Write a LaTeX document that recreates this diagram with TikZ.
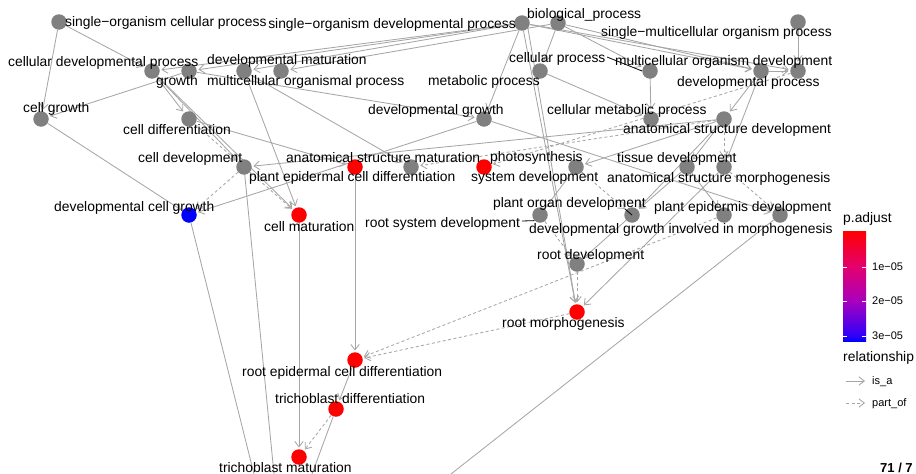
\documentclass[tikz,border=0pt]{standalone}
\usepackage{fontspec}
\setmainfont{Liberation Sans}
\usetikzlibrary{arrows.meta,backgrounds}
\definecolor{edgegrey}{HTML}{A6A6A6}
\definecolor{nodegrey}{HTML}{808080}
\pgfdeclareverticalshading{pbar}{100bp}{rgb(0bp)=(0,0,1); rgb(25bp)=(0,0,1); rgb(27.3bp)=(0.18,0,0.98); rgb(43.2bp)=(0.66,0,0.74); rgb(58.6bp)=(0.89,0,0.44); rgb(75bp)=(1,0,0); rgb(100bp)=(1,0,0)}
\begin{document}
\begin{tikzpicture}[x=1pt,y=-1pt,
  gonode/.style={circle, fill=nodegrey, draw=none, minimum size=15.5pt, inner sep=0pt},
  sig/.style={gonode, fill=red},
  isa/.style={draw=edgegrey, line width=0.85pt, -{Straight Barb[length=5.5pt,width=8.5pt]}, shorten >=1.5pt},
  partof/.style={isa, dash pattern=on 3pt off 2.5pt},
  plain/.style={draw=edgegrey, line width=0.85pt},
  lbl/.style={anchor=west, inner sep=0pt, text height=10pt, text depth=1pt, font=\fontsize{13.85}{14}\selectfont},
  lsm/.style={anchor=west, inner sep=0pt, text height=8pt, text depth=1pt, font=\fontsize{11}{12}\selectfont},
  seg/.style={draw=black, line width=0.8pt}]
\useasboundingbox (0,0) rectangle (916,474);
% nodes
\node[gonode] (A) at (59,22) {};
\node[gonode] (B) at (522,23) {};
\node[gonode] (C) at (558,23) {};
\node[gonode] (D) at (798,22) {};
\node[gonode] (E) at (152,71) {};
\node[gonode] (F) at (189,71) {};
\node[gonode] (G) at (244,71) {};
\node[gonode] (H) at (281,71) {};
\node[gonode] (I) at (540,71) {};
\node[gonode] (J) at (650,71) {};
\node[gonode] (K) at (761,71) {};
\node[gonode] (L) at (798,71) {};
\node[gonode] (M) at (41,119) {};
\node[gonode] (N) at (189,119) {};
\node[gonode] (O) at (484,119) {};
\node[gonode] (P) at (651,119) {};
\node[gonode] (Q) at (724,119) {};
\node[gonode] (R) at (244,167) {};
\node[sig] (S) at (355,167) {};
\node[gonode] (T) at (411,167) {};
\node[sig] (U) at (484,167) {};
\node[gonode] (V) at (576,167) {};
\node[gonode] (W) at (687,167) {};
\node[gonode] (X) at (724,167) {};
\node[gonode, fill=blue] (Y) at (189,215) {};
\node[sig] (Z) at (299,215) {};
\node[gonode] (AA) at (540,215) {};
\node[gonode] (AB) at (632,215) {};
\node[gonode] (AC) at (724,215) {};
\node[gonode] (AD) at (780,215) {};
\node[gonode] (AE) at (577,264) {};
\node[sig] (AF) at (577,312) {};
\node[sig] (AG) at (355,360) {};
\node[sig] (AH) at (336,409) {};
\node[sig] (AI) at (299,457) {};
\coordinate (b1) at (254,474);
\coordinate (b2) at (274,474);
\coordinate (b3) at (312,474);
\coordinate (b4) at (451,474);
% edges
\begin{pgfonlayer}{background}
\draw[isa] (A) -- (E);
\draw[isa] (A) -- (M);
\draw[isa] (B) -- (E);
\draw[isa] (B) -- (F);
\draw[isa] (B) -- (G);
\draw[isa] (C) -- (H);
\draw[isa] (C) -- (I);
\draw[isa] (C) -- (J);
\draw[isa] (B) -- (K);
\draw[isa] (C) -- (K);
\draw[isa] (B) -- (L);
\draw[isa] (K) -- (L);
\draw[isa] (D) -- (L);
\draw[isa] (E) -- (N);
\draw[isa] (E) -- (R);
\draw[isa] (E) -- (Z);
\draw[isa] (F) -- (M);
\draw[isa] (F) -- (O);
\draw[isa] (B) -- (O);
\draw[isa] (G) -- (Z);
\draw[isa] (G) -- (T);
\draw[isa] (I) -- (P);
\draw[isa] (J) -- (P);
\draw[isa] (K) -- (Q);
\draw[isa] (K) -- (X);
\draw[isa] (M) -- (Y);
\draw[isa] (O) -- (Y);
\draw[isa] (O) -- (AD);
\draw[isa] (N) -- (S);
\draw[isa] (Q) -- (R);
\draw[isa] (Q) -- (W);
\draw[isa] (Q) -- (V);
\draw[isa] (Q) -- (AB);
\draw[isa] (S) -- (AG);
\draw[isa] (Z) -- (AI);
\draw[isa] (V) -- (AA);
\draw[isa] (W) -- (AB);
\draw[isa] (W) -- (AC);
\draw[isa] (AB) -- (AE);
\draw[isa] (X) -- (AF);
\draw[isa] (B) -- (AF);
\draw[isa] ([xshift=5pt]B.center) -- (AF);
\draw[isa] (AG) -- (AH);
\draw[plain] (Y) -- (b1);
\draw[plain] (R) -- (b2);
\draw[plain] (AH) -- (b3);
\draw[plain] (AD) -- (b4);
\draw[partof] (N) -- (R);
\draw[partof] (R) -- (Z);
\draw[partof] (R) -- (Y);
\draw[partof] (L) -- (U);
\draw[partof] (Q) -- (X);
\draw[partof] (Q) -- (T);
\draw[partof] (V) -- (AB);
\draw[partof] (AA) -- (AE);
\draw[partof] (AE) -- (AF);
\draw[partof] (AC) -- (AG);
\draw[partof] (AF) -- (AG);
\draw[partof] (AH) -- (AI);
\draw[partof] (X) -- (AD);
\end{pgfonlayer}
% labels
\node[lbl] (tA) at (65,22) {single\symbol{"2212}organism cellular process};
\node[lbl, anchor=east] (tB) at (516,24) {single\symbol{"2212}organism developmental process};
\node[lbl] (tC) at (527,14) {biological\_process};
\node[lbl] (tD) at (601,32) {single\symbol{"2212}multicellular organism process};
\node[lbl] (tE) at (8,62) {cellular developmental process};
\node[lbl] (tF) at (156,81) {growth};
\node[lbl] (tG) at (207,60) {developmental maturation};
\node[lbl] (tH) at (207,81) {multicellular organismal process};
\node[lbl] (tJ) at (509,58) {cellular process};
\node[lbl] (tI) at (428,81) {metabolic process};
\node[lbl] (tL) at (615,61) {multicellular organism development};
\node[lbl] (tK) at (677,82) {developmental process};
\node[lbl] (tM) at (23,108) {cell growth};
\node[lbl] (tN) at (123,130) {cell differentiation};
\node[lbl] (tO) at (368,110) {developmental growth};
\node[lbl] (tP) at (547,110) {cellular metabolic process};
\node[lbl] (tQ) at (623,129) {anatomical structure development};
\node[lbl] (tR) at (138,158) {cell development};
\node[lbl] (tT) at (286,158) {anatomical structure maturation};
\node[lbl] (tS) at (249,177) {plant epidermal cell differentiation};
\node[lbl] (tU) at (490,157) {photosynthesis};
\node[lbl] (tV) at (471,177) {system development};
\node[lbl] (tW) at (617,158) {tissue development};
\node[lbl] (tX) at (607,178) {anatomical structure morphogenesis};
\node[lbl] (tY) at (54,207) {developmental cell growth};
\node[lbl] (tZ) at (264,227) {cell maturation};
\node[lbl] (tAB) at (493,203) {plant organ development};
\node[lbl] (tAA) at (365,223) {root system development};
\node[lbl] (tAC) at (654,207) {plant epidermis development};
\node[lbl] (tAD) at (529,229) {developmental growth involved in morphogenesis};
\node[lbl] (tAE) at (537,255) {root development};
\node[lbl] (tAF) at (502,323) {root morphogenesis};
\node[lbl] (tAG) at (242,372) {root epidermal cell differentiation};
\node[lbl] (tAH) at (275,399) {trichoblast differentiation};
\node[lbl] (tAI) at (219,468) {trichoblast maturation};
% repel segments
\coordinate (sJ) at (607,57);
\draw[seg] (sJ) -- (J.west);
\coordinate (sAA) at (522,221);
\draw[seg] (sAA) -- (AA.south west);
\coordinate (sAB) at (625,209);
\draw[seg] (sAB) -- (AB.center);
% legend
\node[lbl] (lt1) at (843,218) {p.adjust};
\shade[shading=pbar] (843,231) rectangle (866,341);
\foreach \yy in {267,301,336} {
  \draw[white, line width=0.6pt] (843,\yy) -- (847,\yy);
  \draw[white, line width=0.6pt] (862,\yy) -- (866,\yy);
}
\node[lsm] (k1) at (872,267) {1e\symbol{"2212}05};
\node[lsm] (k2) at (872,301) {2e\symbol{"2212}05};
\node[lsm] (k3) at (872,336) {3e\symbol{"2212}05};
\node[lbl] (lt2) at (843,357) {relationship};
\coordinate (la1) at (846,381);
\coordinate (la2) at (865,381);
\draw[isa, shorten >=0pt] (la1) -- (la2);
\node[lsm] (li1) at (872,381) {is\_a};
\coordinate (lb1) at (846,403);
\coordinate (lb2) at (865,403);
\draw[partof, shorten >=0pt] (lb1) -- (lb2);
\node[lsm] (li2) at (872,403) {part\_of};
\node[anchor=base west, inner sep=0pt, font=\fontsize{13}{14}\selectfont\bfseries] (pg) at (880,472) {71 / 7};
\end{tikzpicture}
\end{document}
